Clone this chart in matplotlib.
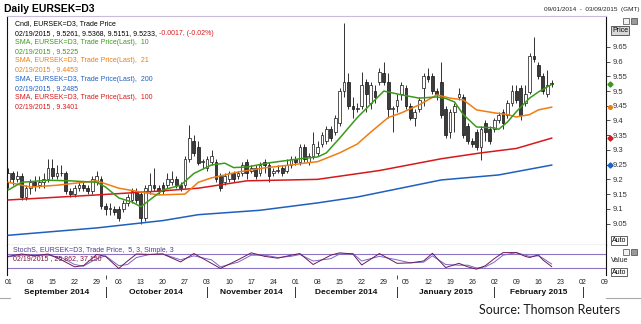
"""Daily EURSEK=D3 candles with SMA 10/21/100/200 and slow stochastic, Sep 2014 - Feb 2015."""
import numpy as np, pandas as pd
import matplotlib; matplotlib.use('Agg'); import matplotlib.pyplot as plt
from matplotlib.transforms import blended_transform_factory as blend
from matplotlib.patches import Rectangle
from matplotlib.lines import Line2D

plt.rcParams['font.family'] = ['Liberation Sans', 'DejaVu Sans']

# trading days shown on the axis (candles cover the first 124 of them)
days = pd.bdate_range('2014-09-01', '2015-03-09')
pos = {d.strftime('%Y-%m-%d'): i for i, d in enumerate(days)}

opens = [9.19, 9.22, 9.20, 9.21, 9.14, 9.17, 9.19, 9.18, 9.19, 9.20, 9.24, 9.21, 9.22, 9.22, 9.16, 9.15,
         9.17, 9.18, 9.17, 9.16, 9.19, 9.20, 9.11, 9.10, 9.10, 9.10, 9.10, 9.12, 9.13, 9.16, 9.15, 9.07,
         9.16, 9.18, 9.17, 9.18, 9.18, 9.19, 9.20, 9.18, 9.18, 9.27, 9.33, 9.31, 9.26, 9.24, 9.26, 9.26,
         9.21, 9.19, 9.20, 9.22, 9.21, 9.22, 9.26, 9.23, 9.24, 9.22, 9.26, 9.25, 9.22, 9.23, 9.24, 9.23,
         9.25, 9.27, 9.26, 9.31, 9.26, 9.28, 9.29, 9.32, 9.33, 9.37, 9.36, 9.39, 9.50, 9.53, 9.45, 9.44,
         9.45, 9.53, 9.46, 9.50, 9.53, 9.56, 9.53, 9.44, 9.45, 9.49, 9.51, 9.45, 9.41, 9.44, 9.51, 9.55,
         9.55, 9.50, 9.53, 9.44, 9.36, 9.43, 9.48, 9.48, 9.38, 9.33, 9.36, 9.31, 9.39, 9.37, 9.37, 9.40,
         9.43, 9.42, 9.46, 9.50, 9.51, 9.46, 9.497, 9.62, 9.59, 9.55, 9.49, 9.5261]
highs = [9.24, 9.23, 9.23, 9.22, 9.18, 9.20, 9.21, 9.21, 9.22, 9.27, 9.27, 9.25, 9.25, 9.23, 9.17, 9.18,
         9.19, 9.19, 9.18, 9.21, 9.23, 9.21, 9.12, 9.12, 9.11, 9.11, 9.13, 9.15, 9.17, 9.17, 9.16, 9.18,
         9.22, 9.24, 9.18, 9.19, 9.22, 9.23, 9.21, 9.19, 9.28, 9.385, 9.35, 9.33, 9.27, 9.28, 9.30, 9.27,
         9.22, 9.22, 9.23, 9.23, 9.23, 9.26, 9.27, 9.25, 9.25, 9.26, 9.27, 9.26, 9.24, 9.25, 9.25, 9.27,
         9.28, 9.28, 9.32, 9.32, 9.29, 9.36, 9.33, 9.36, 9.38, 9.38, 9.42, 9.51, 9.73, 9.56, 9.48, 9.46,
         9.565, 9.54, 9.53, 9.52, 9.58, 9.60, 9.56, 9.45, 9.49, 9.53, 9.52, 9.46, 9.44, 9.48, 9.56, 9.58,
         9.56, 9.51, 9.60, 9.45, 9.44, 9.46, 9.51, 9.49, 9.39, 9.34, 9.37, 9.38, 9.40, 9.38, 9.41, 9.43,
         9.44, 9.47, 9.52, 9.52, 9.52, 9.52, 9.63, 9.685, 9.60, 9.56, 9.57, 9.5368]
lows = [9.17, 9.18, 9.19, 9.13, 9.13, 9.15, 9.16, 9.17, 9.17, 9.19, 9.20, 9.20, 9.21, 9.15, 9.14, 9.14,
        9.16, 9.16, 9.15, 9.15, 9.18, 9.10, 9.08, 9.08, 9.08, 9.06, 9.09, 9.11, 9.12, 9.12, 9.05, 9.06,
        9.15, 9.16, 9.15, 9.15, 9.17, 9.18, 9.17, 9.16, 9.17, 9.26, 9.28, 9.25, 9.24, 9.23, 9.25, 9.19,
        9.16, 9.18, 9.19, 9.19, 9.20, 9.21, 9.20, 9.22, 9.20, 9.21, 9.22, 9.19, 9.21, 9.22, 9.21, 9.22,
        9.24, 9.25, 9.25, 9.26, 9.25, 9.27, 9.28, 9.31, 9.32, 9.33, 9.35, 9.38, 9.48, 9.44, 9.41, 9.43,
        9.44, 9.43, 9.44, 9.46, 9.52, 9.52, 9.41, 9.36, 9.43, 9.47, 9.44, 9.40, 9.38, 9.43, 9.45, 9.53,
        9.49, 9.47, 9.41, 9.34, 9.34, 9.36, 9.47, 9.34, 9.32, 9.31, 9.30, 9.265, 9.33, 9.32, 9.36, 9.39,
        9.37, 9.41, 9.45, 9.46, 9.40, 9.45, 9.49, 9.60, 9.54, 9.49, 9.48, 9.5151]
closes = [9.22, 9.20, 9.21, 9.14, 9.17, 9.19, 9.18, 9.19, 9.20, 9.24, 9.21, 9.22, 9.22, 9.16, 9.15, 9.17,
          9.18, 9.17, 9.16, 9.20, 9.21, 9.11, 9.10, 9.10, 9.09, 9.07, 9.12, 9.14, 9.16, 9.13, 9.07, 9.17,
          9.18, 9.17, 9.16, 9.16, 9.20, 9.20, 9.18, 9.17, 9.27, 9.34, 9.29, 9.255, 9.26, 9.27, 9.28, 9.20,
          9.17, 9.21, 9.22, 9.20, 9.22, 9.25, 9.22, 9.24, 9.21, 9.25, 9.25, 9.21, 9.23, 9.23, 9.22, 9.25,
          9.27, 9.26, 9.31, 9.27, 9.28, 9.32, 9.31, 9.35, 9.37, 9.34, 9.41, 9.50, 9.53, 9.45, 9.44, 9.44,
          9.52, 9.49, 9.52, 9.48, 9.565, 9.53, 9.44, 9.44, 9.47, 9.52, 9.45, 9.41, 9.43, 9.47, 9.55, 9.54,
          9.50, 9.49, 9.42, 9.35, 9.43, 9.45, 9.49, 9.35, 9.33, 9.32, 9.31, 9.37, 9.36, 9.33, 9.40, 9.42,
          9.39, 9.46, 9.50, 9.47, 9.42, 9.49, 9.62, 9.61, 9.55, 9.50, 9.52, 9.5233]

sma10_dates = ['2014-09-01', '2014-09-04', '2014-09-12', '2014-09-19', '2014-09-29', '2014-10-01',
               '2014-10-06', '2014-10-09', '2014-10-13', '2014-10-15', '2014-10-20', '2014-10-24',
               '2014-10-29', '2014-11-04', '2014-11-07', '2014-11-11', '2014-11-14', '2014-11-21',
               '2014-12-02', '2014-12-08', '2014-12-10', '2014-12-15', '2014-12-19', '2014-12-24',
               '2014-12-29', '2015-01-02', '2015-01-08', '2015-01-14', '2015-01-16', '2015-01-20',
               '2015-01-22', '2015-01-27', '2015-02-02', '2015-02-03', '2015-02-05', '2015-02-09',
               '2015-02-12', '2015-02-16', '2015-02-19']
sma10 = [9.164, 9.19, 9.197, 9.195, 9.19, 9.174, 9.137, 9.123, 9.107, 9.13, 9.164, 9.18, 9.22, 9.249,
         9.255, 9.24, 9.242, 9.256, 9.27, 9.276, 9.29, 9.34, 9.41, 9.455, 9.50, 9.487, 9.476, 9.48,
         9.475, 9.463, 9.42, 9.378, 9.375, 9.37, 9.395, 9.43, 9.476, 9.497, 9.5225]
sma21_dates = ['2014-09-01', '2014-09-08', '2014-09-16', '2014-09-24', '2014-09-29', '2014-10-06',
               '2014-10-13', '2014-10-17', '2014-10-27', '2014-10-30', '2014-11-04', '2014-11-12',
               '2014-11-20', '2014-11-28', '2014-12-03', '2014-12-08', '2014-12-15', '2014-12-19',
               '2014-12-24', '2014-12-30', '2015-01-02', '2015-01-08', '2015-01-14', '2015-01-19',
               '2015-01-22', '2015-01-27', '2015-02-02', '2015-02-05', '2015-02-09', '2015-02-12',
               '2015-02-16', '2015-02-19']
sma21 = [9.19, 9.174, 9.18, 9.19, 9.195, 9.17, 9.157, 9.147, 9.15, 9.19, 9.205, 9.225, 9.239, 9.249,
         9.255, 9.26, 9.29, 9.32, 9.36, 9.41, 9.426, 9.453, 9.487, 9.476, 9.47, 9.436, 9.426, 9.42,
         9.412, 9.42, 9.436, 9.4453]
sma100_dates = ['2014-09-01', '2014-09-29', '2014-10-17', '2014-10-30', '2014-11-14', '2014-12-08',
                '2014-12-26', '2015-01-15', '2015-01-28', '2015-02-09', '2015-02-19']
sma100 = [9.13, 9.147, 9.16, 9.17, 9.195, 9.20, 9.23, 9.27, 9.29, 9.305, 9.3401]
sma200_dates = ['2014-09-01', '2014-09-29', '2014-10-20', '2014-10-30', '2014-11-19', '2014-12-08',
                '2014-12-19', '2015-01-15', '2015-02-03', '2015-02-19']
sma200 = [9.01, 9.035, 9.06, 9.08, 9.095, 9.12, 9.14, 9.198, 9.215, 9.2485]

stoch_dates = ['2014-09-01', '2014-09-04', '2014-09-09', '2014-09-12', '2014-09-17', '2014-09-22',
               '2014-09-24', '2014-09-29', '2014-10-01', '2014-10-06', '2014-10-08', '2014-10-10',
               '2014-10-15', '2014-10-20', '2014-10-24', '2014-10-29', '2014-11-04', '2014-11-06',
               '2014-11-12', '2014-11-17', '2014-11-20', '2014-11-25', '2014-11-28', '2014-12-02',
               '2014-12-05', '2014-12-11', '2014-12-15', '2014-12-18', '2014-12-22', '2014-12-26',
               '2015-01-01', '2015-01-06', '2015-01-09', '2015-01-13', '2015-01-16', '2015-01-21',
               '2015-01-23', '2015-01-27', '2015-01-29', '2015-02-02', '2015-02-04', '2015-02-09',
               '2015-02-11', '2015-02-12', '2015-02-16', '2015-02-17', '2015-02-19']
stoch_k = [70, 80, 72, 80, 55, 25, 30, 78, 70, 18, 50, 80, 78, 80, 46, 82, 40, 18, 55, 85, 70, 62, 75,
           82, 35, 75, 85, 80, 33, 82, 40, 42, 50, 83, 22, 40, 25, 15, 30, 60, 86, 86, 70, 65, 76, 55,
           25.862]
stoch_d = [68, 75, 75, 75, 65, 35, 28, 60, 72, 30, 35, 65, 78, 80, 55, 72, 55, 25, 45, 75, 75, 65, 70,
           78, 50, 60, 80, 82, 50, 70, 55, 42, 45, 72, 35, 32, 32, 20, 25, 45, 75, 86, 75, 70, 72, 62,
           37.150]

W, H = 641, 324
def fx(x): return x / W
def fy(y): return 1 - y / H

GREEN, ORANGE, RED, BLUE = '#3b9a1b', '#f07c12', '#d7191c', '#1f5fc0'

fig = plt.figure(figsize=(W / 100, H / 100), dpi=100)
ax = fig.add_axes([fx(7), fy(245), fx(606) - fx(7), fy(16) - fy(245)])
ax2 = fig.add_axes([fx(7), fy(275), fx(606) - fx(7), fy(245) - fy(275)], sharex=ax)

# candles
o, h, l, c = map(np.array, (opens, highs, lows, closes))
x = np.arange(len(c))
ax.vlines(x, l, h, color='#111111', lw=0.6, zorder=2)
body = np.where(np.abs(c - o) < 0.002, 0.002, c - o)
fill = np.where(c >= o, 'white', '#3c3c3c')
ax.bar(x, body, bottom=o, width=0.62, color=fill, edgecolor='#111111', lw=0.5, zorder=2)

for dts, vals, col in ((sma200_dates, sma200, BLUE), (sma100_dates, sma100, RED),
                       (sma21_dates, sma21, ORANGE), (sma10_dates, sma10, GREEN)):
    ax.plot([pos[d] for d in dts], vals, color=col, lw=1.1, zorder=3)

ax.set_xlim(-0.3, 135.3); ax.set_ylim(8.977, 9.755)
ax.yaxis.tick_right()
yt = np.round(np.arange(9.05, 9.651, 0.05), 2)
ax.set_yticks(yt); ax.set_yticklabels([f'{v:g}' for v in yt])
ax.tick_params(axis='y', length=3, width=0.6, labelsize=5.5, pad=1.5, colors='#333333')
ax.tick_params(axis='x', which='both', bottom=False, labelbottom=False)
for s in ('left', 'right', 'bottom'): ax.spines[s].set_color('#111111'); ax.spines[s].set_linewidth(0.8)
ax.spines['top'].set_color('#c8bcd6'); ax.spines['top'].set_linewidth(0.8)

# last-value markers on the price scale
tr = blend(ax.transAxes, ax.transData)
for v, col, mk in ((sma10[-1], GREEN, 'D'), (sma21[-1], ORANGE, 'o'), (sma100[-1], RED, 'D'), (sma200[-1], BLUE, 'D')):
    ax.plot([1.006], [v], marker=mk, ms=2.6, color=col, transform=tr, clip_on=False, zorder=5)

# stochastic panel
sx = [pos[d] for d in stoch_dates]
ax2.axhline(80, color='#8a74c4', lw=0.8); ax2.axhline(20, color='#8a74c4', lw=0.8)
ax2.plot(sx, stoch_d, color='#7b66c9', lw=0.7)
ax2.plot(sx, stoch_k, color='#6e1a55', lw=0.7)
ax2.set_ylim(-10, 118.6); ax2.set_yticks([])
for s in ('left', 'right'): ax2.spines[s].set_color('#111111'); ax2.spines[s].set_linewidth(0.8)
ax2.spines['top'].set_visible(False); ax2.spines['bottom'].set_visible(False)

mondays = [i for i, d in enumerate(days) if d.weekday() == 0]
ax2.set_xticks(mondays); ax2.set_xticklabels([days[i].strftime('%d') for i in mondays])
month_starts = [i for i in range(1, len(days)) if days[i].month != days[i - 1].month]
ax2.set_xticks(month_starts, minor=True)
ax2.tick_params(axis='x', which='major', length=0, labelsize=5, pad=3, colors='#222222')
ax2.tick_params(axis='x', which='minor', length=3, width=0.6, color='#333333')

# month band
tb = blend(ax2.transData, fig.transFigure)
edges = [-0.3] + month_starts
for b in month_starts:
    fig.add_artist(Line2D([b, b], [fy(287), fy(297)], transform=tb, color='#333333', lw=0.7))
for a, b in zip(edges[:-1], edges[1:]):
    fig.text((a + b) / 2, fy(292), days[max(int(a), 0)].strftime('%B %Y'), transform=tb,
             ha='center', va='center', fontsize=6, weight='bold', color='#111111')
for x0, x1 in ((0, 10), (606, 641)):
    fig.add_artist(Line2D([fx(x0), fx(x1)], [fy(298), fy(298)], color='#aaaaaa', lw=0.8))

# header
fig.text(fx(4), fy(9), 'Daily EURSEK=D3', fontsize=7.5, weight='bold', va='center')
fig.text(fx(639), fy(9), '09/01/2014  -  03/09/2015  (GMT)', fontsize=4.6, ha='right', va='center', color='#222222')

# legend block
legend = [('Cndl, EURSEK=D3, Trade Price', 'black'),
          ('02/19/2015 , 9.5261, 9.5368, 9.5151, 9.5233, ', 'black'),
          ('SMA, EURSEK=D3, Trade Price(Last),  10', GREEN), ('02/19/2015 , 9.5225', GREEN),
          ('SMA, EURSEK=D3, Trade Price(Last),  21', ORANGE), ('02/19/2015 , 9.4453', ORANGE),
          ('SMA, EURSEK=D3, Trade Price(Last),  200', BLUE), ('02/19/2015 , 9.2485', BLUE),
          ('SMA, EURSEK=D3, Trade Price(Last),  100', RED), ('02/19/2015 , 9.3401', RED)]
for k, (txt, col) in enumerate(legend):
    t = fig.text(fx(15), fy(24 + k * 9.2), txt, fontsize=5, color=col, va='center')
    if k == 1:  # change part of the last-bar line is red
        ax.annotate('-0.0017, (-0.02%)', xy=(1, 0), xycoords=t, fontsize=5, color=RED, va='bottom')

fig.text(fx(13), fy(250), 'StochS, EURSEK=D3, Trade Price,  5, 3, Simple, 3', fontsize=5, color='#4b3c8c', va='center')
fig.text(fx(13), fy(259), '02/19/2015 , 25.862, 37.150', fontsize=5, color='#7a1040', va='center')

# right-hand scale widgets
def box(x0, y0, w, h, fc):
    fig.add_artist(Rectangle((fx(x0), fy(y0 + h)), w / W, h / H, fc=fc, ec='#444444', lw=0.5, transform=fig.transFigure))
for yy in (18, 249):
    box(623, yy, 6, 6, '#f2f2f2'); box(631, yy, 6, 6, '#9a9a9a')
fig.text(fx(612), fy(30.5), 'Price', fontsize=5, va='center',
         bbox=dict(boxstyle='square,pad=0.15', fc='#d9d9d9', ec='#222222', lw=0.5))
fig.text(fx(612), fy(240.5), 'Auto', fontsize=5, va='center',
         bbox=dict(boxstyle='square,pad=0.1', fc='white', ec='#222222', lw=0.5))
fig.text(fx(611), fy(261), 'Value', fontsize=5, va='center', color='#222222')
fig.text(fx(612), fy(272), 'Auto', fontsize=5, va='center',
         bbox=dict(boxstyle='square,pad=0.1', fc='white', ec='#222222', lw=0.5))

fig.text(fx(620), fy(310), 'Source: Thomson Reuters', fontsize=9, ha='right', va='center',
         color='#1a1a1a', family=['Lato', 'DejaVu Sans'])

fig.savefig('out.png', dpi=100)
